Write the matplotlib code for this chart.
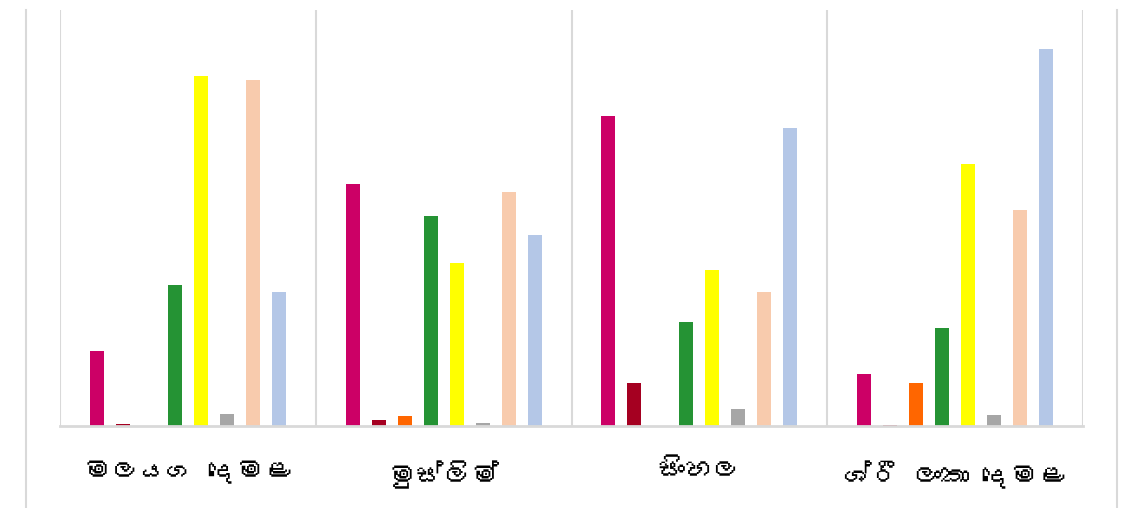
import numpy as np
import matplotlib
matplotlib.use("Agg")
import matplotlib.pyplot as plt
from matplotlib import font_manager
from matplotlib.ft2font import FT2Font
from matplotlib.lines import Line2D

categories = ["මලයග දෙමළ", "මුස්ලිම්", "සිංහල", "ශ්රී ලංකා දෙමළ"]
colors = ["#CC0066", "#A50021", "#FF6600", "#259334",
          "#FFFF00", "#A6A6A6", "#F8CBAD", "#B4C7E7"]

# one list per series (8 series, 4 groups)
s1 = [7.5, 24.2, 31.0, 5.2]
s2 = [0.2, 0.6, 4.3, 0.1]
s3 = [0.0, 1.0, 0.0, 4.3]
s4 = [14.1, 21.0, 10.4, 9.8]
s5 = [35.0, 16.3, 15.6, 26.2]
s6 = [1.2, 0.3, 1.7, 1.1]
s7 = [34.6, 23.4, 13.4, 21.6]
s8 = [13.4, 19.1, 29.8, 37.7]
series = [s1, s2, s3, s4, s5, s6, s7, s8]

# look for an installed font that has Sinhala glyphs
sinhala = []
for f in font_manager.fontManager.ttflist:
    try:
        if 0x0DC3 in FT2Font(f.fname).get_charmap():
            sinhala.append(f.name)
    except Exception:
        pass
fams = list(dict.fromkeys(sinhala)) + ["DejaVu Sans"]

fig = plt.figure(figsize=(11.22, 5.08), dpi=100)
ax = fig.add_axes([60/1122, 1-426/508, 1023/1122, 416/508])

x = np.arange(len(categories))
slot = 26/256
width = 14/256
for i, (vals, c) in enumerate(zip(series, colors)):
    ax.bar(x + (i - 3.5)*slot, vals, width, color=c, zorder=3)

ax.set_xlim(-0.5, 3.5)
ax.set_ylim(0, 41.6)
ax.set_xticks(x)
ax.set_xticklabels(categories, fontsize=20, family=fams)
ax.set_xticks(np.arange(-0.5, 4, 1), minor=True)
ax.tick_params(axis="x", which="both", length=0, pad=25)
ax.set_yticks([])
ax.grid(which="minor", axis="x", color="#D9D9D9", linewidth=1.5, zorder=0)
for sp in ["top", "left", "right"]:
    ax.spines[sp].set_visible(False)
ax.spines["bottom"].set_color("#D9D9D9")
ax.spines["bottom"].set_linewidth(2)
ax.spines["bottom"].set_zorder(4)

# outer chart frame (left and right edges)
for xf in [26/1122, 1117/1122]:
    fig.add_artist(Line2D([xf, xf], [0, 1-10/508], color="#D9D9D9", linewidth=1.5))

fig.savefig("out.png", dpi=100)
